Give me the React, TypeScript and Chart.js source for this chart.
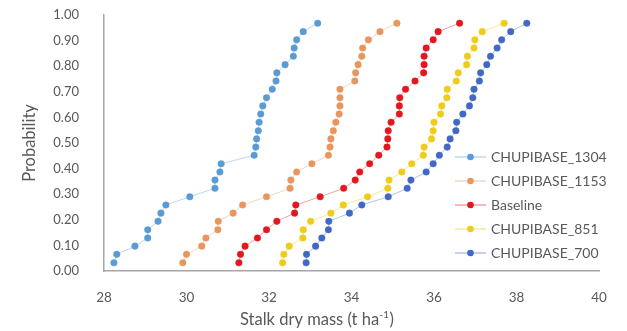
import React, { useEffect, useRef } from 'react';
import { Chart, registerables } from 'chart.js';

Chart.register(...registerables);

// Cumulative probability (rank / 31) shared by all series
const probability = [
  0.032, 0.065, 0.097, 0.129, 0.161, 0.194, 0.226, 0.258, 0.29, 0.323,
  0.355, 0.387, 0.419, 0.452, 0.484, 0.516, 0.548, 0.581, 0.613, 0.645,
  0.677, 0.71, 0.742, 0.774, 0.806, 0.839, 0.871, 0.903, 0.935, 0.968,
];

const chupibase1304 = [
  28.24, 28.31, 28.75, 29.06, 29.06, 29.31, 29.38, 29.5, 30.08, 30.69,
  30.69, 30.81, 30.84, 31.64, 31.68, 31.7, 31.74, 31.76, 31.8, 31.85,
  31.94, 32.08, 32.17, 32.19, 32.39, 32.59, 32.61, 32.67, 32.83, 33.18,
];

const chupibase1153 = [
  29.91, 30.0, 30.37, 30.47, 30.76, 30.77, 31.13, 31.36, 31.94, 32.51,
  32.53, 32.67, 33.04, 33.44, 33.48, 33.5, 33.56, 33.62, 33.7, 33.72,
  33.72, 33.72, 34.08, 34.1, 34.16, 34.25, 34.27, 34.41, 34.69, 35.1,
];

const baseline = [
  31.27, 31.31, 31.42, 31.72, 31.94, 32.19, 32.62, 32.65, 33.24, 33.81,
  34.09, 34.2, 34.44, 34.66, 34.86, 34.88, 34.89, 34.96, 35.16, 35.16,
  35.17, 35.31, 35.54, 35.75, 35.76, 35.76, 35.81, 35.98, 36.1, 36.62,
];

const chupibase851 = [
  32.33, 32.36, 32.49, 32.82, 32.83, 33.01, 33.5, 33.8, 34.39, 34.88,
  34.91, 35.22, 35.46, 35.74, 35.76, 35.94, 35.98, 36.0, 36.16, 36.19,
  36.31, 36.32, 36.54, 36.59, 36.79, 36.81, 36.97, 36.99, 37.17, 37.7,
];

const chupibase700 = [
  32.9, 32.91, 33.13, 33.28, 33.44, 33.45, 33.95, 34.25, 34.89, 35.35,
  35.44, 35.81, 35.98, 36.13, 36.32, 36.39, 36.53, 36.55, 36.7, 36.86,
  36.94, 36.97, 37.1, 37.13, 37.28, 37.37, 37.53, 37.64, 37.86, 38.25,
];

const seriesLabels = ['CHUPIBASE_1304', 'CHUPIBASE_1153', 'Baseline', 'CHUPIBASE_851', 'CHUPIBASE_700'];
const seriesValues = [chupibase1304, chupibase1153, baseline, chupibase851, chupibase700];
const seriesColors = ['#5B9BD5', '#E8955E', '#E3171F', '#F0CC1A', '#4068C4'];
const lineColors = ['rgba(91,155,213,0.4)', 'rgba(232,149,94,0.4)', 'rgba(227,23,31,0.4)', 'rgba(240,204,26,0.45)', 'rgba(64,104,196,0.4)'];

const xMin = 28;
const xMax = 40;
const xStep = 2;
const yMin = 0;
const yMax = 1;
const yStep = 0.1;
const yTitle = 'Probability';
const xTitleMain = 'Stalk dry mass (t ha';
const xTitleSup = '-1';
const xTitleEnd = ')';

const FONT = "Lato, 'Open Sans', sans-serif";
const TEXT = '#595959';

const overlayPlugin = {
  id: 'overlay',
  afterDraw(chart: any) {
    const ctx = chart.ctx;
    ctx.save();
    // x axis title with superscript
    ctx.fillStyle = TEXT;
    ctx.textBaseline = 'alphabetic';
    ctx.font = `16.5px ${FONT}`;
    const w1 = ctx.measureText(xTitleMain).width;
    ctx.font = `10px ${FONT}`;
    const w2 = ctx.measureText(xTitleSup).width;
    ctx.font = `16.5px ${FONT}`;
    const w3 = ctx.measureText(xTitleEnd).width;
    const total = w1 + w2 + w3 + 1;
    let x = 317 - total / 2;
    const baseY = 325;
    ctx.textAlign = 'left';
    ctx.fillText(xTitleMain, x, baseY);
    x += w1 + 0.5;
    ctx.font = `10px ${FONT}`;
    ctx.fillText(xTitleSup, x, baseY - 7);
    x += w2 + 0.5;
    ctx.font = `16.5px ${FONT}`;
    ctx.fillText(xTitleEnd, x, baseY);

    // legend
    const legendYs0 = 157;
    const gap = 24;
    ctx.font = `14px ${FONT}`;
    ctx.textBaseline = 'middle';
    chart.data.datasets.forEach((ds: any, i: number) => {
      const y = legendYs0 + i * gap;
      ctx.strokeStyle = ds.borderColor;
      ctx.lineWidth = 1.5;
      ctx.beginPath();
      ctx.moveTo(455, y);
      ctx.lineTo(486, y);
      ctx.stroke();
      ctx.fillStyle = ds.pointBackgroundColor;
      ctx.beginPath();
      ctx.arc(470.5, y, 3.3, 0, Math.PI * 2);
      ctx.fill();
      ctx.fillStyle = TEXT;
      ctx.fillText(ds.label, 491, y);
    });
    ctx.restore();
  },
};

export default function App() {
  const ref = useRef<HTMLCanvasElement | null>(null);

  useEffect(() => {
    if (!ref.current) return;
    const datasets = seriesLabels.map((label, i) => ({
      label,
      data: seriesValues[i].map((v, k) => ({ x: v, y: probability[k] })),
      showLine: true,
      borderColor: lineColors[i],
      borderWidth: 1,
      backgroundColor: seriesColors[i],
      pointBackgroundColor: seriesColors[i],
      pointBorderColor: lineColors[i],
      pointBorderWidth: 1,
      pointRadius: 3.3,
    }));
    const chart = new Chart(ref.current, {
      type: 'scatter',
      data: { datasets },
      options: {
        responsive: false,
        animation: false,
        layout: { padding: { top: 15, right: 28, left: 0, bottom: 0 } },
        plugins: { legend: { display: false }, tooltip: { enabled: false } },
        scales: {
          x: {
            type: 'linear',
            min: xMin,
            max: xMax,
            grid: { display: false, drawTicks: true, tickLength: 16 },
            border: { display: true, color: '#A6A6A6', width: 1.5 },
            ticks: {
              stepSize: xStep,
              padding: 3,
              color: TEXT,
              font: { family: FONT, size: 13.5 },
              maxRotation: 0,
            },
            afterFit: (s: any) => { s.height = 60; },
          },
          y: {
            type: 'linear',
            min: yMin,
            max: yMax,
            grid: { display: false, drawTicks: true, tickLength: 22 },
            border: { display: true, color: '#A6A6A6', width: 1.5 },
            ticks: {
              stepSize: yStep,
              padding: 3,
              color: TEXT,
              font: { family: FONT, size: 13 },
              callback: (v: any) => Number(v).toFixed(2),
            },
            title: {
              display: true,
              text: yTitle,
              color: TEXT,
              font: { family: FONT, size: 16.5 },
              padding: { top: 20, bottom: 0 },
            },
            afterFit: (s: any) => { s.width = 104; },
          },
        },
      },
      plugins: [overlayPlugin],
    } as any);
    return () => chart.destroy();
  }, []);

  return (
    <div style={{ position: 'fixed', left: 0, top: 0, width: 627, height: 331, background: '#fff' }}>
      <canvas ref={ref} width={627} height={331} style={{ width: 627, height: 331 }} />
    </div>
  );
}
